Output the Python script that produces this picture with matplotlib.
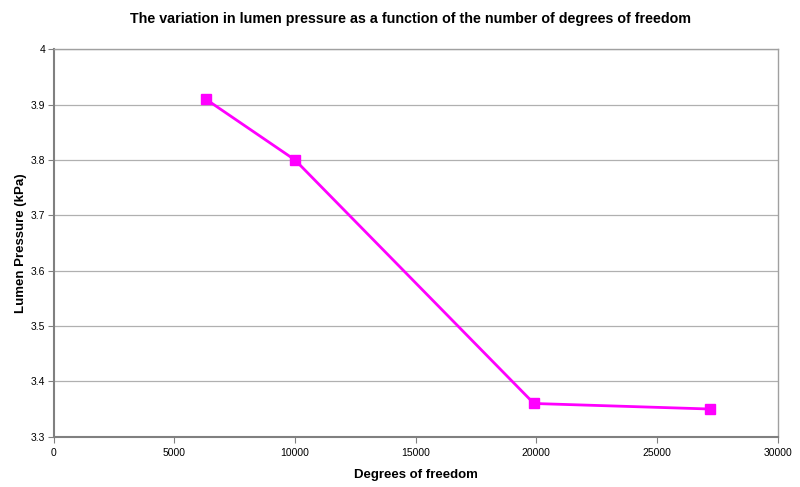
import matplotlib
matplotlib.use("Agg")
import matplotlib.pyplot as plt

# values
dof = [6300, 10000, 19900, 27200]
pressure = [3.91, 3.80, 3.36, 3.35]
x_ticks = [0, 5000, 10000, 15000, 20000, 25000, 30000]
y_ticks = [3.3, 3.4, 3.5, 3.6, 3.7, 3.8, 3.9, 4.0]
y_labels = ["3.3", "3.4", "3.5", "3.6", "3.7", "3.8", "3.9", "4"]

plt.rcParams['font.family'] = ['Liberation Sans', 'DejaVu Sans']

fig = plt.figure(figsize=(8, 4.87), dpi=100)
ax = fig.add_axes([0.0671, 0.1033, 0.905, 0.7955])

ax.plot(dof, pressure, color='#ff00ff', linewidth=2, marker='s',
        markersize=7, markerfacecolor='#ff00ff', markeredgecolor='#ff00ff')

ax.set_xlim(0, 30000)
ax.set_ylim(3.3, 4.0)
ax.set_xticks(x_ticks)
ax.set_xticklabels([str(t) for t in x_ticks])
ax.set_yticks(y_ticks)
ax.set_yticklabels(y_labels)
ax.yaxis.grid(True, color='#b0b0b0', linewidth=0.9)
ax.set_axisbelow(True)

for side in ['top', 'right']:
    ax.spines[side].set_color('#a0a0a0')
    ax.spines[side].set_linewidth(1)
for side in ['left', 'bottom']:
    ax.spines[side].set_color('#808080')
    ax.spines[side].set_linewidth(1.5)

ax.tick_params(axis='both', labelsize=7.5, colors='#000000', length=4,
               color='#808080', direction='out')
ax.tick_params(axis='x', pad=4)
ax.tick_params(axis='y', pad=2)

ax.set_xlabel('Degrees of freedom', fontsize=9.5, fontweight='bold', labelpad=8)
ax.set_ylabel('Lumen Pressure (kPa)', fontsize=9.5, fontweight='bold', labelpad=3)
fig.text(0.513, 0.962, 'The variation in lumen pressure as a function of the number of degrees of freedom',
         ha='center', va='center', fontsize=10.3, fontweight='bold')

fig.savefig('out.png', dpi=100)
